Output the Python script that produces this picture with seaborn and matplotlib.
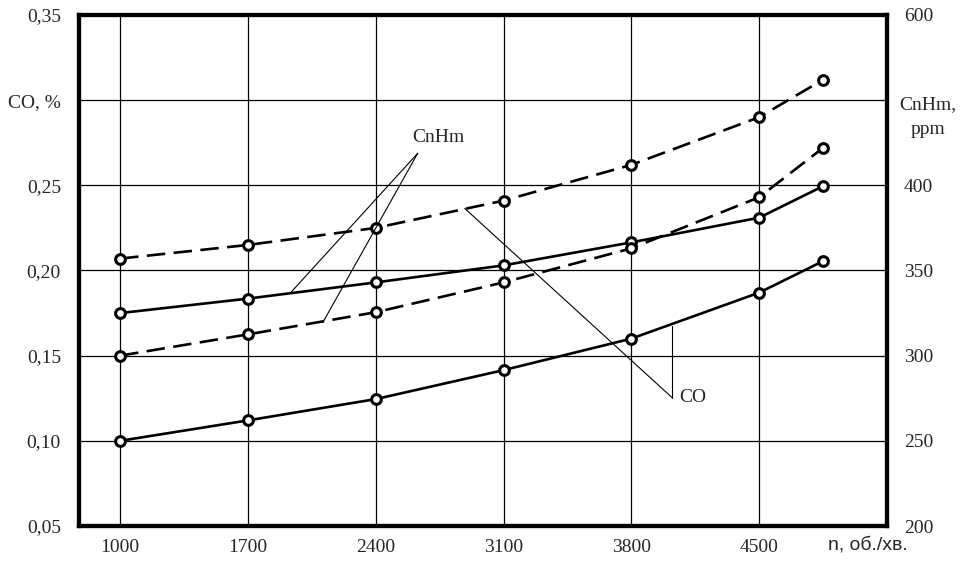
import numpy as np
import pandas as pd
import matplotlib
matplotlib.use('Agg')
import matplotlib.pyplot as plt
import seaborn as sns

# engine speed, rpm
rpm = [1000, 1700, 2400, 3100, 3800, 4500, 4850]

# CO, % (left axis)
co_dashed = [0.207, 0.215, 0.225, 0.241, 0.262, 0.290, 0.312]
co_solid = [0.100, 0.112, 0.1245, 0.1415, 0.160, 0.187, 0.2055]

# CnHm, ppm (right axis)
cnhm_solid = [325, 333.5, 343, 353, 366.5, 381, 399.5]
cnhm_dashed = [300, 312.5, 325.5, 343, 363, 393, 422]

x_ticks = [1000, 1700, 2400, 3100, 3800, 4500]
left_ticks = [0.05, 0.10, 0.15, 0.20, 0.25, 0.30, 0.35]
left_labels = ['0,05', '0,10', '0,15', '0,20', '0,25', 'CO, %', '0,35']
right_ticks = [200, 250, 300, 350, 400, 500]
right_labels = ['200', '250', '300', '350', '400', '600']

sns.set_style('white')
plt.rcParams['font.family'] = ['Liberation Serif', 'DejaVu Serif']

fig = plt.figure(figsize=(9.62, 5.74), dpi=100)
ax = fig.add_axes([0.0821, 0.0836, 0.8399, 0.8903])
ax2 = ax.twinx()

dash = (0, (7, 3.2))
mk = dict(marker='o', markersize=7, markerfacecolor='white',
          markeredgecolor='black', markeredgewidth=2.2, color='black', lw=1.9)

sns.lineplot(x=rpm, y=co_dashed, ax=ax, linestyle=dash, **mk)
sns.lineplot(x=rpm, y=co_solid, ax=ax, linestyle='-', **mk)
sns.lineplot(x=rpm, y=cnhm_solid, ax=ax2, linestyle='-', **mk)
sns.lineplot(x=rpm, y=cnhm_dashed, ax=ax2, linestyle=dash, **mk)

ax.set_xlim(775, 5200)
ax.set_ylim(0.05, 0.35)
ax2.set_ylim(200, 500)

ax.set_xticks(x_ticks)
ax.set_xticklabels([str(v) for v in x_ticks], fontsize=14)
ax.set_yticks(left_ticks)
ax.set_yticklabels(left_labels, fontsize=14)
ax2.set_yticks(right_ticks)
ax2.set_yticklabels(right_labels, fontsize=14)

ax.grid(True, color='black', lw=0.9)
ax2.grid(False)
ax.tick_params(axis='x', length=0, pad=9)
ax.tick_params(axis='y', length=0, pad=13)
ax2.tick_params(axis='y', length=0, pad=12)

for a in (ax, ax2):
    for s in a.spines.values():
        s.set_linewidth(3)
        s.set_color('black')

fig.text(0.902, 0.0505, 'n, об./хв.', fontsize=14,
         family=['Liberation Sans', 'DejaVu Sans'], ha='center', va='center')

ax2.text(1.051, 0.800, 'CnHm,\nppm', transform=ax2.transAxes, fontsize=14,
         ha='center', va='center', linespacing=1.6)

# leader lines CnHm
ax.plot([2630, 1930], [0.2688, 0.1865], color='black', lw=0.8)
ax.plot([2630, 2110], [0.2688, 0.1694], color='black', lw=0.8)
ax.text(2745, 0.2782, 'CnHm', fontsize=14, ha='center', va='center')

# leader lines CO
ax.plot([2887, 4024], [0.2365, 0.1253], color='black', lw=0.8)
ax.plot([4024, 4024], [0.1253, 0.1676], color='black', lw=0.8)
ax.text(4060, 0.1253, 'CO', fontsize=14, ha='left', va='center')

fig.savefig('out.png', dpi=100)
